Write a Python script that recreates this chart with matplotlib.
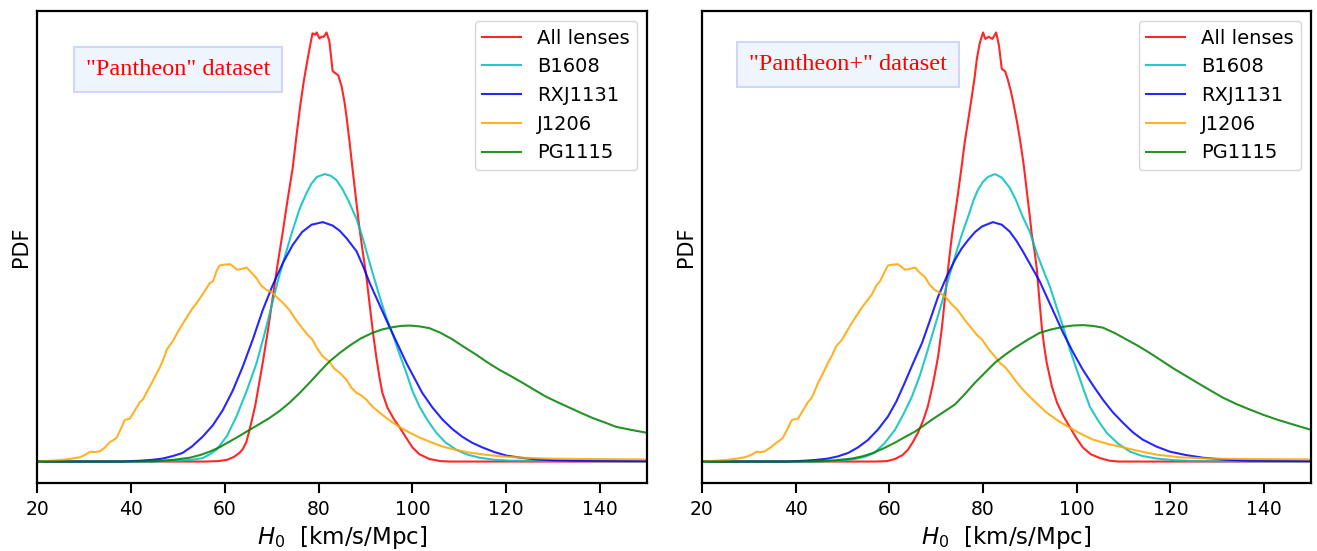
import matplotlib
matplotlib.use("Agg")
import matplotlib.pyplot as plt

# ---------------- data ----------------
labels = ["All lenses", "B1608", "RXJ1131", "J1206", "PG1115"]
colors = ["red", "c", "blue", "orange", "green"]

# Left panel ("Pantheon")
L_red_x = [20, 56, 58.5, 60.5, 62, 63.1, 63.8, 64.6, 65.3, 66.5, 68.1, 69.2, 70.2, 71.2, 72.3, 73.4, 74.5, 75.3, 76.1, 76.9, 77.7, 78.3, 78.7, 79.3, 79.6, 80.2, 80.6, 81.1, 81.7, 82.3, 82.7, 83, 83.6, 84.2, 84.9, 85.5, 86, 86.6, 87.2, 88, 88.7, 89.4, 90.2, 90.9, 91.6, 92.3, 93, 93.6, 94.7, 96, 97.2, 98.7, 100, 101.5, 103.6, 106, 108, 150]
L_red_y = [0, 0, 0.001, 0.004, 0.011, 0.02, 0.028, 0.045, 0.074, 0.13, 0.23, 0.305, 0.38, 0.455, 0.53, 0.61, 0.685, 0.76, 0.83, 0.89, 0.94, 0.975, 0.998, 0.995, 1.0, 0.986, 0.99, 0.99, 1.0, 0.98, 0.94, 0.91, 0.905, 0.9, 0.875, 0.84, 0.80, 0.745, 0.686, 0.61, 0.545, 0.49, 0.43, 0.365, 0.3, 0.244, 0.195, 0.16, 0.125, 0.1, 0.081, 0.055, 0.033, 0.017, 0.006, 0.001, 0, 0]

L_cyan_x = [20, 45, 50, 53, 55.3, 57, 58.3, 60.5, 62.5, 64.7, 66.8, 68.3, 69.6, 71.3, 73, 74.5, 76, 77.4, 78.5, 79.6, 81.3, 82.6, 83.8, 85.1, 86.5, 88.1, 89.3, 90.2, 91.5, 93, 94.3, 95.7, 97.2, 98.7, 100, 101.5, 103.3, 105.1, 107, 109.4, 111.8, 114.3, 117.5, 121, 150]
L_cyan_y = [0, 0, 0.002, 0.004, 0.008, 0.018, 0.028, 0.06, 0.105, 0.165, 0.23, 0.29, 0.346, 0.42, 0.485, 0.54, 0.59, 0.625, 0.648, 0.663, 0.67, 0.666, 0.656, 0.635, 0.605, 0.565, 0.525, 0.49, 0.44, 0.385, 0.34, 0.3, 0.252, 0.207, 0.165, 0.128, 0.095, 0.067, 0.045, 0.027, 0.016, 0.009, 0.004, 0.002, 0]

L_blue_x = [20, 38, 42, 44.5, 46.8, 49, 51, 53, 55.3, 57.5, 59.6, 61.7, 63.8, 66, 68.1, 70, 71, 72.5, 74.5, 76.5, 78.5, 80.9, 83, 84.5, 86, 88.1, 89.5, 90.9, 93, 95.1, 97, 98.7, 100.4, 102.1, 104.2, 106.4, 108.5, 110.6, 112.7, 114.9, 117.5, 120, 123, 126.4, 130, 135, 150]
L_blue_y = [0, 0, 0.002, 0.004, 0.007, 0.013, 0.02, 0.035, 0.058, 0.085, 0.12, 0.165, 0.22, 0.285, 0.353, 0.405, 0.43, 0.465, 0.505, 0.535, 0.552, 0.558, 0.55, 0.538, 0.52, 0.49, 0.455, 0.416, 0.365, 0.314, 0.27, 0.23, 0.195, 0.16, 0.127, 0.098, 0.076, 0.058, 0.044, 0.033, 0.022, 0.014, 0.009, 0.005, 0.003, 0.002, 0.001]

L_orange_x = [20, 23, 25.5, 27.5, 29.1, 30.3, 31.3, 32.3, 33.4, 34.5, 35.5, 36.3, 37, 37.8, 38.7, 39.8, 40.8, 41.9, 42.6, 43.3, 44, 45, 46.2, 47, 47.7, 48.9, 50, 51, 52, 53.2, 54.2, 55.3, 56.2, 56.8, 57.5, 58.3, 58.9, 60, 61.1, 61.8, 62.6, 63.6, 64.7, 65.7, 66.8, 67.8, 68.9, 70, 71, 72.4, 73.8, 75.2, 76.6, 77.7, 78.7, 79.8, 80.9, 82.3, 83.3, 84.5, 86, 87, 88.1, 89, 90.2, 91.5, 93, 95, 97.2, 99.3, 101.5, 104, 106.4, 109, 112.1, 115.5, 119.1, 123.5, 128.5, 135, 150]
L_orange_y = [0, 0.002, 0.004, 0.007, 0.01, 0.016, 0.023, 0.022, 0.024, 0.033, 0.045, 0.05, 0.056, 0.075, 0.097, 0.1, 0.118, 0.138, 0.145, 0.16, 0.174, 0.195, 0.22, 0.24, 0.262, 0.28, 0.302, 0.32, 0.338, 0.358, 0.372, 0.39, 0.405, 0.416, 0.42, 0.445, 0.457, 0.459, 0.46, 0.455, 0.447, 0.449, 0.452, 0.44, 0.427, 0.41, 0.4, 0.395, 0.384, 0.37, 0.353, 0.33, 0.31, 0.295, 0.284, 0.262, 0.245, 0.233, 0.217, 0.207, 0.19, 0.172, 0.16, 0.155, 0.144, 0.128, 0.114, 0.097, 0.081, 0.068, 0.056, 0.045, 0.035, 0.028, 0.021, 0.016, 0.012, 0.009, 0.007, 0.006, 0.005]

L_green_x = [20, 40, 45, 49, 52.6, 54.7, 56.8, 59, 61.1, 63.2, 65.3, 67.5, 69.6, 71.7, 73.8, 76, 78.1, 80.2, 82.3, 84.5, 86.6, 89, 91.5, 93.6, 95.7, 97.5, 99.4, 101.5, 103.6, 106, 108.5, 111, 113.6, 116, 118.5, 121, 123.4, 126, 128.5, 131, 133.4, 136, 138.3, 141, 143.4, 146.5, 150]
L_green_y = [0, 0, 0.001, 0.004, 0.009, 0.015, 0.023, 0.034, 0.047, 0.06, 0.074, 0.088, 0.102, 0.118, 0.137, 0.16, 0.184, 0.209, 0.233, 0.253, 0.27, 0.287, 0.3, 0.308, 0.313, 0.316, 0.317, 0.315, 0.311, 0.3, 0.285, 0.267, 0.249, 0.231, 0.214, 0.199, 0.184, 0.167, 0.151, 0.138, 0.126, 0.113, 0.102, 0.091, 0.081, 0.074, 0.067]

# Right panel ("Pantheon+")
R_red_x = [20, 57, 59.5, 61.2, 62.8, 64, 65, 66.1, 67.2, 68.2, 69.3, 70.4, 71.2, 71.9, 72.7, 73.4, 74.6, 75.4, 76.1, 76.9, 77.6, 78.2, 78.7, 79.3, 80, 80.5, 81.2, 82, 82.8, 83.4, 84, 84.7, 85.3, 85.9, 86.4, 87.2, 87.9, 88.7, 89.4, 90, 90.4, 91, 91.5, 92, 92.6, 93.1, 93.6, 94.7, 95.8, 97.2, 98.5, 99.9, 101.3, 103, 105, 107, 109, 150]
R_red_y = [0, 0, 0.001, 0.006, 0.015, 0.028, 0.045, 0.067, 0.095, 0.128, 0.18, 0.244, 0.31, 0.384, 0.465, 0.53, 0.62, 0.685, 0.745, 0.8, 0.85, 0.895, 0.94, 0.975, 1.0, 0.985, 0.99, 0.985, 1.0, 0.97, 0.915, 0.91, 0.89, 0.865, 0.84, 0.795, 0.75, 0.69, 0.625, 0.57, 0.53, 0.49, 0.447, 0.38, 0.307, 0.265, 0.23, 0.175, 0.137, 0.105, 0.081, 0.055, 0.033, 0.017, 0.008, 0.002, 0, 0]

R_cyan_x = [20, 44, 48, 50.5, 52.7, 55, 56.9, 59, 61.2, 63, 64.8, 66.5, 68.2, 69.7, 71.2, 72.6, 74, 75.5, 76.8, 78, 78.9, 80, 81, 82.5, 84, 85.7, 87, 88.5, 90, 91.5, 92.9, 94.3, 95.7, 97.1, 98.5, 100, 101.4, 102.8, 104.6, 106.4, 108.8, 111.4, 114, 117.1, 121, 125, 150]
R_cyan_y = [0, 0, 0.001, 0.003, 0.006, 0.012, 0.021, 0.043, 0.074, 0.11, 0.151, 0.2, 0.26, 0.315, 0.37, 0.425, 0.477, 0.53, 0.57, 0.61, 0.633, 0.652, 0.663, 0.67, 0.662, 0.638, 0.61, 0.57, 0.535, 0.485, 0.445, 0.407, 0.36, 0.314, 0.262, 0.214, 0.17, 0.128, 0.095, 0.067, 0.042, 0.023, 0.013, 0.007, 0.003, 0.001, 0]

R_blue_x = [20, 38, 42, 44.5, 46.9, 49, 51.2, 53.3, 55.4, 57.6, 59.7, 61.5, 63.3, 65.1, 67, 68.7, 70.4, 72.2, 74, 75.4, 76.8, 78.3, 79.8, 82.1, 84, 85.7, 87.1, 88.5, 90.3, 92.1, 94.6, 97.1, 99.2, 101.3, 103.5, 105.6, 107.7, 109.9, 112, 114.1, 117, 119.9, 123.4, 126.9, 132, 137, 150]
R_blue_y = [0, 0, 0.002, 0.004, 0.007, 0.012, 0.02, 0.033, 0.05, 0.075, 0.105, 0.14, 0.184, 0.23, 0.277, 0.33, 0.384, 0.43, 0.47, 0.496, 0.516, 0.535, 0.548, 0.558, 0.552, 0.536, 0.515, 0.49, 0.455, 0.42, 0.36, 0.3, 0.255, 0.214, 0.177, 0.144, 0.115, 0.09, 0.068, 0.051, 0.035, 0.023, 0.015, 0.009, 0.004, 0.002, 0.001]

R_orange_x = [20, 23, 25.5, 27.5, 29.2, 30.6, 31.7, 32.6, 33.4, 34.7, 36, 36.7, 37.3, 38.2, 39.2, 40.5, 41.5, 42.6, 43.4, 44.1, 44.8, 45.8, 46.9, 47.8, 48.6, 49.9, 51, 52, 53, 54.2, 55.2, 56.3, 57.2, 58, 58.9, 59.7, 60.8, 61.8, 62.6, 63.3, 64.4, 65.5, 66.5, 67.6, 68.6, 69.7, 70.8, 71.9, 73.2, 74.6, 76.1, 77.6, 78.7, 79.8, 81.2, 82.5, 83.6, 84.7, 85.7, 86.8, 88.3, 90, 91.8, 93.6, 96, 98.5, 101, 103.5, 106.7, 109.9, 113.5, 117.1, 122, 127.8, 135, 150]
R_orange_y = [0, 0.002, 0.004, 0.007, 0.01, 0.016, 0.023, 0.022, 0.024, 0.033, 0.045, 0.05, 0.056, 0.075, 0.097, 0.1, 0.118, 0.138, 0.148, 0.165, 0.184, 0.205, 0.23, 0.248, 0.268, 0.284, 0.305, 0.323, 0.34, 0.36, 0.374, 0.39, 0.41, 0.42, 0.44, 0.457, 0.459, 0.46, 0.454, 0.447, 0.449, 0.452, 0.44, 0.43, 0.412, 0.4, 0.393, 0.384, 0.368, 0.353, 0.33, 0.31, 0.295, 0.284, 0.262, 0.245, 0.23, 0.22, 0.207, 0.19, 0.17, 0.151, 0.132, 0.114, 0.095, 0.079, 0.064, 0.051, 0.041, 0.033, 0.024, 0.016, 0.01, 0.007, 0.006, 0.005]

R_green_x = [20, 40, 45, 48.5, 52, 54.2, 56.3, 58.8, 61.2, 63.3, 65.5, 67.6, 69.7, 71.8, 74, 76.1, 78.3, 80.4, 82.5, 84.6, 86.8, 89.4, 92.1, 94.6, 97.1, 99.2, 101.3, 103.5, 105.6, 108.2, 110.7, 113.2, 115.6, 118, 120.5, 123.1, 125.7, 128.5, 131.2, 134.1, 137, 139.8, 142.7, 146.3, 150]
R_green_y = [0, 0, 0.001, 0.003, 0.007, 0.012, 0.019, 0.031, 0.044, 0.057, 0.07, 0.086, 0.102, 0.117, 0.133, 0.157, 0.184, 0.207, 0.23, 0.248, 0.265, 0.283, 0.3, 0.308, 0.314, 0.317, 0.318, 0.316, 0.312, 0.299, 0.284, 0.269, 0.253, 0.236, 0.218, 0.201, 0.184, 0.166, 0.149, 0.134, 0.121, 0.109, 0.098, 0.086, 0.074]

panel_titles = ['"Pantheon" dataset', '"Pantheon+" dataset']
xticks = [20, 40, 60, 80, 100, 120, 140]

panels = [
    [(L_red_x, L_red_y), (L_cyan_x, L_cyan_y), (L_blue_x, L_blue_y), (L_orange_x, L_orange_y), (L_green_x, L_green_y)],
    [(R_red_x, R_red_y), (R_cyan_x, R_cyan_y), (R_blue_x, R_blue_y), (R_orange_x, R_orange_y), (R_green_x, R_green_y)],
]

# ---------------- figure ----------------
fig = plt.figure(figsize=(13.17, 5.51), dpi=100)
axes_rects = [[0.0281, 0.1234, 0.4632, 0.8566], [0.5330, 0.1234, 0.4624, 0.8566]]
box_pos = [(0.231, 0.876), (0.240, 0.887)]

for i, rect in enumerate(axes_rects):
    ax = fig.add_axes(rect)
    for (xs, ys), c, lab in zip(panels[i], colors, labels):
        ax.plot(xs, ys, color=c, lw=1.5, alpha=0.85, label=lab)
    ax.set_xlim(20, 150)
    ax.set_ylim(-0.05, 1.05)
    ax.set_xticks(xticks)
    ax.set_yticks([])
    ax.tick_params(axis='x', labelsize=13.5, length=7, width=1.5, pad=5, direction='out')
    for s in ax.spines.values():
        s.set_linewidth(1.6)
    ax.set_xlabel(r'$H_0$  [km/s/Mpc]', fontsize=16.5, labelpad=4)
    ax.set_ylabel('PDF', fontsize=15)
    ax.legend(loc='upper right', fontsize=14)
    ax.text(box_pos[i][0], box_pos[i][1], panel_titles[i], transform=ax.transAxes,
            ha='center', va='center', fontsize=17.5, color='red',
            family='Liberation Serif',
            bbox=dict(boxstyle='square,pad=0.5', facecolor='#eef5fc',
                      edgecolor='#d0d6f8', linewidth=1.5))

fig.savefig('out.png', dpi=100)
